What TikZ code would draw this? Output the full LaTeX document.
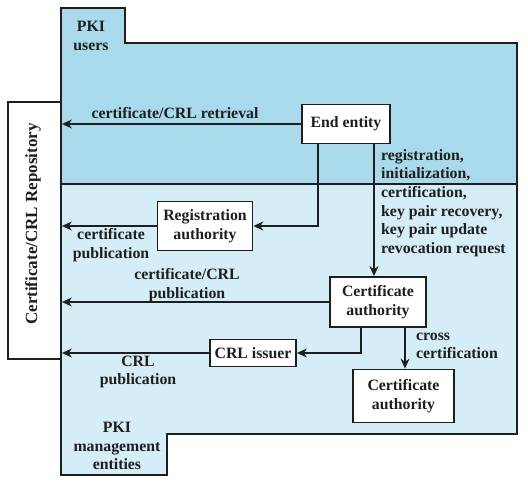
\documentclass[tikz,border=0pt]{standalone}
\usepackage{fontspec}
\setmainfont{Liberation Serif}
\usetikzlibrary{arrows.meta}
\definecolor{upperblue}{HTML}{A9DAEC}
\definecolor{lowerblue}{HTML}{D5EDF7}
\definecolor{ink}{HTML}{1E1E1E}
\tikzset{
  region/.style={draw=ink, line width=1.8pt, line join=miter},
  box/.style={draw=ink, line width=1.8pt, fill=white, align=center, inner sep=2pt, text=ink},
  conn/.style={draw=ink, line width=1.6pt},
  arr/.style={conn, -{Stealth[length=10pt,width=9pt]}},
  lbl/.style={text=ink, inner sep=0pt},
}
\begin{document}
\begin{tikzpicture}[x=1pt,y=-1pt, font=\fontsize{15.8}{18.6}\selectfont\bfseries]
\useasboundingbox (0,0) rectangle (528,484);
% regions
\path[region, fill=upperblue] (61,8) -- (125,8) -- (125,43) -- (517,43) -- (517,184) -- (61,184) -- cycle;
\path[region, fill=lowerblue] (61,184) -- (517,184) -- (517,434) -- (167,434) -- (167,475) -- (61,475) -- cycle;
% repository
\node[box, minimum width=53pt, minimum height=257pt, inner sep=0pt] (repo) at (34.5,230.5) {};
\node[lbl, rotate=90, font=\fontsize{17}{20}\selectfont\bfseries] (repotext) at (33,224) {Certificate/CRL Repository};
% region labels
\node[lbl, align=center] (users) at (91,36) {PKI\\users};
\node[lbl, align=center] (mgmt) at (117,446) {PKI\\management\\entities};
% boxes
\node[box, minimum width=88pt, minimum height=39pt] (ee) at (346,124) {End entity};
\node[box, minimum width=95pt, minimum height=49pt] (ra) at (205,226) {Registration\\authority};
\node[box, minimum width=96pt, minimum height=50pt] (ca) at (378,302) {Certificate\\authority};
\node[box, minimum width=86pt, minimum height=27pt] (crl) at (253,353) {CRL issuer};
\node[box, minimum width=101pt, minimum height=53pt] (ca2) at (403.5,396) {Certificate\\authority};
% connectors
\draw[arr] (ee.west) -- (ee.west -| repo.east);
\draw[arr] ([xshift=-28pt]ee.south) |- (ra.east);
\draw[arr] ([xshift=28pt]ee.south) -- ([xshift=28pt]ee.south |- ca.north);
\draw[arr] (ra.west) -- (ra.west -| repo.east);
\draw[arr] (ca.west) -- (ca.west -| repo.east);
\draw[arr] (crl.west) -- (crl.west -| repo.east);
\draw[arr] ([xshift=-17pt]ca.south) |- (crl.east);
\draw[arr] ([xshift=27pt]ca.south) -- ([xshift=27pt]ca.south |- ca2.north);
% labels
\node[lbl] (l1) at (175,113) {certificate/CRL retrieval};
\node[lbl, align=left, anchor=west] (l2) at (381,203) {registration,\\initialization,\\certification,\\key pair recovery,\\key pair update\\revocation request};
\node[lbl, align=center] (l3) at (111,245) {certificate\\publication};
\node[lbl, align=center] (l4) at (187,285) {certificate/CRL\\publication};
\node[lbl, align=center] (l5) at (138,372) {CRL\\publication};
\node[lbl, align=left, anchor=west] (l6) at (416,346) {cross\\certification};
\end{tikzpicture}
\end{document}
